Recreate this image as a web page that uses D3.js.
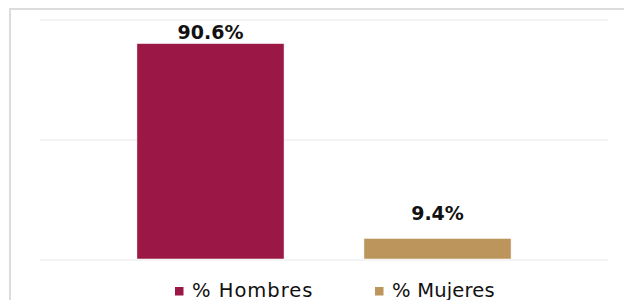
<!DOCTYPE html>
<html><head><meta charset="utf-8">
<script src="https://cdn.jsdelivr.net/npm/d3@7"></script>
<style>html,body{margin:0;padding:0;background:#fff;overflow:hidden}</style>
</head><body>
<svg id="c" width="624" height="300"></svg>
<script>
const categories = ["% Hombres", "% Mujeres"];
const values = [90.6, 9.4];
const valueLabels = ["90.6%", "9.4%"];
const colors = ["#9B1746", "#BC955C"];
const gridTicks = [0, 50, 100];

const svg = d3.select("#c");
// frame
svg.append("path").attr("d","M10,300 V9 H624").attr("fill","none")
  .attr("stroke","#dcdcdc").attr("stroke-width",2);

const x = d3.scaleBand().domain(categories).range([40, 608]).paddingInner(0.352).paddingOuter(0.427);
const y = d3.scaleLinear().domain([0, 100]).range([260, 20]);

svg.append("g").selectAll("line").data(gridTicks).join("line")
  .attr("x1",40).attr("x2",608).attr("y1",d=>y(d)).attr("y2",d=>y(d))
  .attr("stroke","#efefef").attr("stroke-width",1.5);

svg.append("g").selectAll("rect").data(values).join("rect")
  .attr("x",(d,i)=>x(categories[i])).attr("width",x.bandwidth())
  .attr("y",d=>y(d)+1).attr("height",d=>y(0)-2-y(d))
  .attr("fill",(d,i)=>colors[i]).attr("stroke","#fff").attr("stroke-width",0.5);

svg.append("g").selectAll("text").data(values).join("text")
  .attr("x",(d,i)=>x(categories[i])+x.bandwidth()/2)
  .attr("y",d=>Math.min(y(d)-4, y(0)-40))
  .attr("text-anchor","middle")
  .attr("font-family","DejaVu Sans").attr("font-weight","bold").attr("font-size",19)
  .attr("fill","#111")
  .text((d,i)=>valueLabels[i]);

const legX = [175, 375];
const lg = svg.append("g").selectAll("g").data(categories).join("g")
  .attr("transform",(d,i)=>`translate(${legX[i]},0)`);
lg.append("rect").attr("x",0).attr("y",287).attr("width",8.5).attr("height",8.5).attr("fill",(d,i)=>colors[i]);
lg.append("text").attr("x",17).attr("y",296.5).attr("font-family","DejaVu Sans").attr("font-size",19.5)
  .attr("letter-spacing",(d,i)=>i===0?1:0.2)
  .attr("fill","#111").text(d=>d);
</script>
</body></html>
